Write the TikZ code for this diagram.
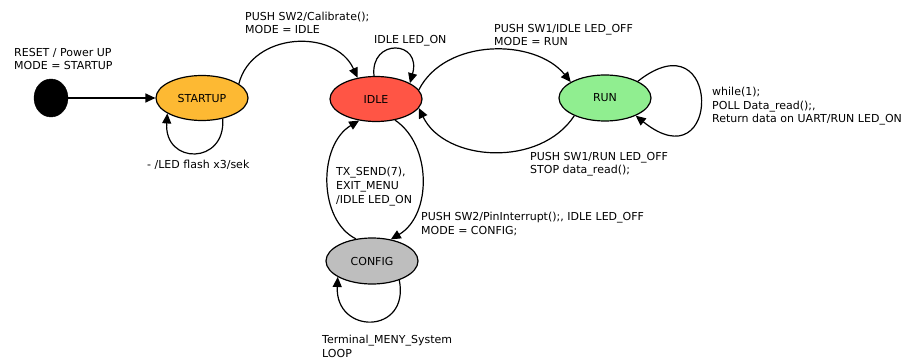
\documentclass[tikz,border=0pt]{standalone}
\usepackage{fontspec}
\setmainfont{DejaVu Sans}
\usetikzlibrary{shapes.geometric,arrows.meta}

\definecolor{startupfill}{HTML}{FDB933}
\definecolor{idlefill}{HTML}{FF5545}
\definecolor{runfill}{HTML}{90EE90}
\definecolor{configfill}{HTML}{BEBEBE}

\tikzset{
  state/.style={ellipse, draw=black, line width=1.2pt, minimum width=92pt,
    minimum height=45pt, inner sep=0pt, font=\fontsize{11}{13}\selectfont},
  initstate/.style={ellipse, fill=black, draw=black, minimum width=34pt,
    minimum height=38pt, inner sep=0pt},
  trans/.style={line width=1.2pt, -{Triangle[length=10pt,width=9pt]}},
  lbl/.style={anchor=base west, inner sep=0pt, align=left,
    font=\fontsize{11}{13.6}\selectfont}
}

\begin{document}
\begin{tikzpicture}[x=1pt,y=-1pt]
\useasboundingbox (0,0) rectangle (904,358);

% states
\node[initstate] (init) at (51,98) {};
\node[state, fill=startupfill] (startup) at (202,98) {STARTUP};
\node[state, fill=idlefill]    (idle)    at (376,99) {IDLE};
\node[state, fill=runfill, minimum height=46pt] (run) at (605,98) {RUN};
\node[state, fill=configfill, minimum height=46pt] (config) at (372,261) {CONFIG};

% transitions
\draw[trans] (init) -- (startup);
\draw[trans] (startup.-45) .. controls (226,165) and (164,165) .. (startup.-156);
\draw[trans] (startup.21) .. controls (252,32) and (335,28) .. (idle.131);
\draw[trans] (idle.95) .. controls (370,38) and (422,40) .. (idle.25);
\draw[trans] (idle.12) .. controls (445,38) and (535,38) .. (run.155);
\draw[trans] (run.210) .. controls (540,168) and (445,162) .. (idle.-12);
\draw[trans] (run.27) .. controls (722,15) and (722,185) .. (run.-30);
\draw[trans] (idle.-48) .. controls (432,145) and (432,215) .. (config.49);
\draw[trans] (config.126) .. controls (318,220) and (318,145) .. (idle.-128);
\draw[trans] (config.-35) .. controls (410,335) and (335,335) .. (config.-155);

% labels (positions are the baseline of the last line)
\node[lbl] (l1) at (14,70) {RESET / Power UP\\MODE = STARTUP};
\node[lbl] (l2) at (245,34) {PUSH SW2/Calibrate();\\MODE = IDLE};
\node[lbl] (l3) at (374,44) {IDLE LED\_ON};
\node[lbl] (l4) at (494,46) {PUSH SW1/IDLE LED\_OFF\\MODE = RUN};
\node[lbl] (l5) at (530,174) {PUSH SW1/RUN LED\_OFF\\STOP data\_read();};
\node[lbl] (l6) at (712,123) {while(1);\\POLL Data\_read();,\\Return data on UART/RUN LED\_ON};
\node[lbl] (l7) at (147,169) {- /LED flash x3/sek};
\node[lbl] (l8) at (336,203) {TX\_SEND(7),\\EXIT\_MENU\\/IDLE LED\_ON};
\node[lbl] (l9) at (421,234) {PUSH SW2/PinInterrupt();, IDLE LED\_OFF\\MODE = CONFIG;};
\node[lbl] (l10) at (322,357) {Terminal\_MENY\_System\\LOOP};
\end{tikzpicture}
\end{document}
